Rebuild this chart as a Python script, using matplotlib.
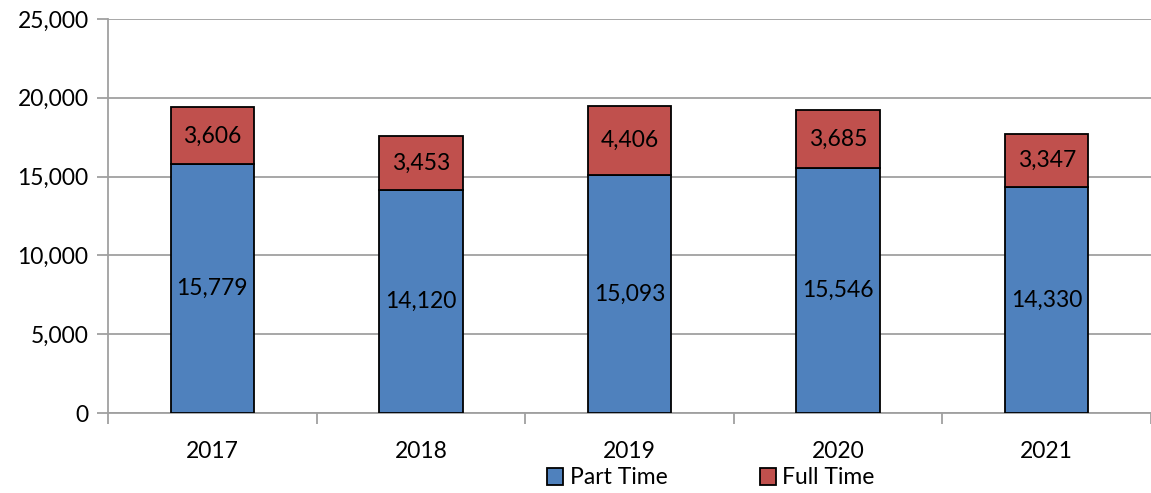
import matplotlib
matplotlib.use("Agg")
import matplotlib.pyplot as plt
import numpy as np

plt.rcParams['font.family'] = ['Lato', 'DejaVu Sans']

years = ['2017', '2018', '2019', '2020', '2021']
part_time = [15779, 14120, 15093, 15546, 14330]
full_time = [3606, 3453, 4406, 3685, 3347]

blue = '#4F81BD'
red = '#C0504D'
grid_gray = '#A0A0A0'
fs = 16.5

fig = plt.figure(figsize=(11.51, 4.93), dpi=100)
ax = fig.add_axes([108 / 1151, 1 - 413 / 493, 1 - 108 / 1151, (413 - 19) / 493])

x = np.arange(len(years))
w = 0.4
b1 = ax.bar(x, part_time, w, color=blue, edgecolor='black', linewidth=1.3, label='Part Time', zorder=3)
b2 = ax.bar(x, full_time, w, bottom=part_time, color=red, edgecolor='black', linewidth=1.3, label='Full Time', zorder=3)

for i in range(len(years)):
    ax.text(x[i], part_time[i] / 2, f'{part_time[i]:,}', ha='center', va='center', fontsize=fs, zorder=4)
    ax.text(x[i], part_time[i] + full_time[i] / 2, f'{full_time[i]:,}', ha='center', va='center', fontsize=fs, zorder=4)

ax.set_xlim(-0.5, len(years) - 0.5)
ax.set_ylim(0, 25000)
ax.set_yticks(range(0, 25001, 5000))
ax.set_yticklabels([f'{v:,}' for v in range(0, 25001, 5000)], fontsize=fs)
ax.yaxis.grid(True, color=grid_gray, linewidth=1.3, zorder=0)
ax.set_axisbelow(True)

ax.set_xticks(x)
ax.set_xticklabels(years, fontsize=fs)
ax.tick_params(axis='x', length=0, pad=20)
ax.set_xticks(np.arange(-0.5, len(years), 1), minor=True)
ax.tick_params(axis='x', which='minor', length=8, color=grid_gray, width=1.3)
ax.tick_params(axis='y', length=8, color=grid_gray, width=1.3, pad=6)

for s in ['top', 'right']:
    ax.spines[s].set_visible(False)
ax.spines['left'].set_color(grid_gray)
ax.spines['bottom'].set_color(grid_gray)
ax.spines['left'].set_linewidth(1.3)
ax.spines['bottom'].set_linewidth(1.3)

fig.legend(handles=[b1, b2], labels=['Part Time', 'Full Time'], loc='center',
           bbox_to_anchor=(711 / 1151, 1 - 478 / 493), ncol=2, frameon=False,
           fontsize=fs, handlelength=0.7, handleheight=0.7, handletextpad=0.3,
           columnspacing=4.0)

fig.savefig('out.png', dpi=100)
